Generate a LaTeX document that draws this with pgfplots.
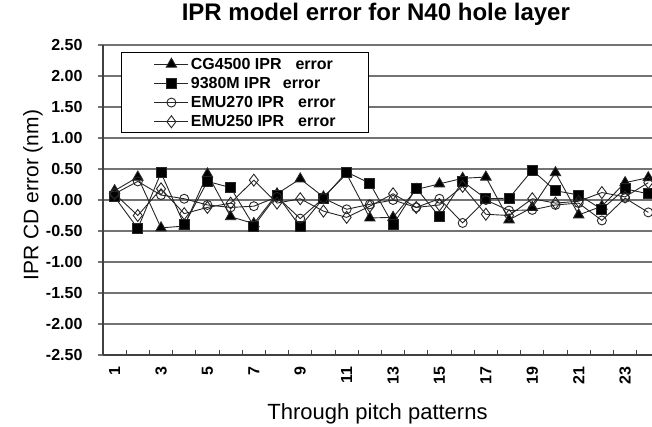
\documentclass[border=0pt]{standalone}
\usepackage{fontspec}
\setmainfont{Liberation Sans}
\usepackage{pgfplots}
\pgfplotsset{compat=1.18}

\begin{document}
\begin{tikzpicture}
\begin{axis}[
  scale only axis, width=549pt, height=310pt,
  xmin=0.5, xmax=24.16, ymin=-2.5, ymax=2.5,
  clip=false,
  axis x line=bottom, axis y line=left,
  axis line style={-, black!75, line width=1.2pt},
  ytick={-2.5,-2,-1.5,-1,-0.5,0,0.5,1,1.5,2,2.5},
  ymajorgrids, major grid style={black!55, line width=1.2pt},
  xtick={1,3,...,23},
  minor xtick={1.5,2.5,...,23.5},
  tick align=inside, major tick length=5pt, minor tick length=5pt,
  every major x tick/.append style={draw=none},
  every major y tick/.append style={xshift=-5pt, black!55, line width=1.2pt},
  every minor x tick/.append style={black!75, line width=1pt},
  yticklabel style={/pgf/number format/fixed, /pgf/number format/fixed zerofill,
    /pgf/number format/precision=2, /pgf/number format/assume math mode=true},
  yticklabel style={font=\fontsize{16}{16}\selectfont\bfseries, anchor=east, xshift=-17pt},
  xticklabel style={/pgf/number format/assume math mode=true,
    font=\fontsize{16}{16}\selectfont\bfseries, yshift=-8pt, rotate=90, anchor=east},
  title={IPR model error for N40 hole layer},
  title style={font=\fontsize{24}{24}\selectfont\bfseries, at={(axis description cs:0.497,1)}, anchor=base, yshift=18pt},
  ylabel={IPR CD error (nm)},
  ylabel style={font=\fontsize{21}{21}\selectfont, at={(axis description cs:-0.1275,0.516)}, anchor=center},
  xlabel={Through pitch patterns},
  xlabel style={font=\fontsize{22}{22}\selectfont, at={(axis description cs:0.5,-0.19)}, anchor=center},
  legend style={at={(rel axis cs:0.087,0.972)}, anchor=north west, draw=none, fill=none,
    font=\fontsize{16}{16}\selectfont\bfseries, inner ysep=2pt, row sep=2.5pt},
  legend cell align=left,
  legend image code/.code={\draw[mark repeat=2,mark phase=2,#1] plot coordinates {(0pt,0pt) (17pt,0pt) (34pt,0pt)};},
  every axis plot/.append style={black!85, line width=0.9pt},
]
\addplot[mark=triangle*, mark size=6pt, mark options={fill=black}] coordinates {
(1,0.15) (2,0.37) (3,-0.45) (4,-0.42) (5,0.42) (6,-0.27) (7,-0.38) (8,0.10)
(9,0.34) (10,0.05) (11,0.42) (12,-0.29) (13,-0.28) (14,0.17) (15,0.26) (16,0.35)
(17,0.37) (18,-0.32) (19,-0.12) (20,0.44) (21,-0.24) (22,-0.10) (23,0.28) (24,0.36)};
\addlegendentry{CG4500 IPR\hspace{14pt}error}
\addplot[mark=square*, mark size=5pt, mark options={fill=black}] coordinates {
(1,0.05) (2,-0.46) (3,0.44) (4,-0.40) (5,0.30) (6,0.20) (7,-0.42) (8,0.08)
(9,-0.43) (10,0.03) (11,0.45) (12,0.27) (13,-0.40) (14,0.19) (15,-0.27) (16,0.30)
(17,0.02) (18,0.03) (19,0.48) (20,0.15) (21,0.08) (22,-0.15) (23,0.18) (24,0.10)};
\addlegendentry{9380M IPR\hspace{12pt}error}
\addplot[mark=o, mark size=4.5pt, mark options={fill=white}] coordinates {
(1,0.10) (2,0.30) (3,0.08) (4,0.02) (5,-0.08) (6,-0.12) (7,-0.10) (8,0.05)
(9,-0.30) (10,0.03) (11,-0.15) (12,-0.07) (13,0.00) (14,-0.12) (15,0.02) (16,-0.37)
(17,0.00) (18,-0.17) (19,-0.16) (20,-0.08) (21,-0.05) (22,-0.33) (23,0.03) (24,-0.20)};
\addlegendentry{EMU270 IPR\hspace{14pt}error}
\addplot[mark=diamond, mark size=6pt, mark options={fill=white}] coordinates {
(1,0.10) (2,-0.25) (3,0.18) (4,-0.22) (5,-0.12) (6,-0.05) (7,0.32) (8,-0.05)
(9,0.02) (10,-0.18) (11,-0.28) (12,-0.10) (13,0.10) (14,-0.12) (15,-0.08) (16,0.22)
(17,-0.23) (18,-0.25) (19,0.02) (20,-0.05) (21,-0.02) (22,0.12) (23,0.05) (24,0.28)};
\addlegendentry{EMU250 IPR\hspace{14pt}error}
% legend frame
\draw[black, line width=1pt, fill=white] (rel axis cs:0.0328,0.977) rectangle (rel axis cs:0.4845,0.719);
\coordinate (sw) at (rel axis cs:0,0);
\end{axis}
\pgfresetboundingbox
\path ([shift={(-103pt,-72pt)}]sw) rectangle ([shift={(549pt,355pt)}]sw);
\end{tikzpicture}
\end{document}
